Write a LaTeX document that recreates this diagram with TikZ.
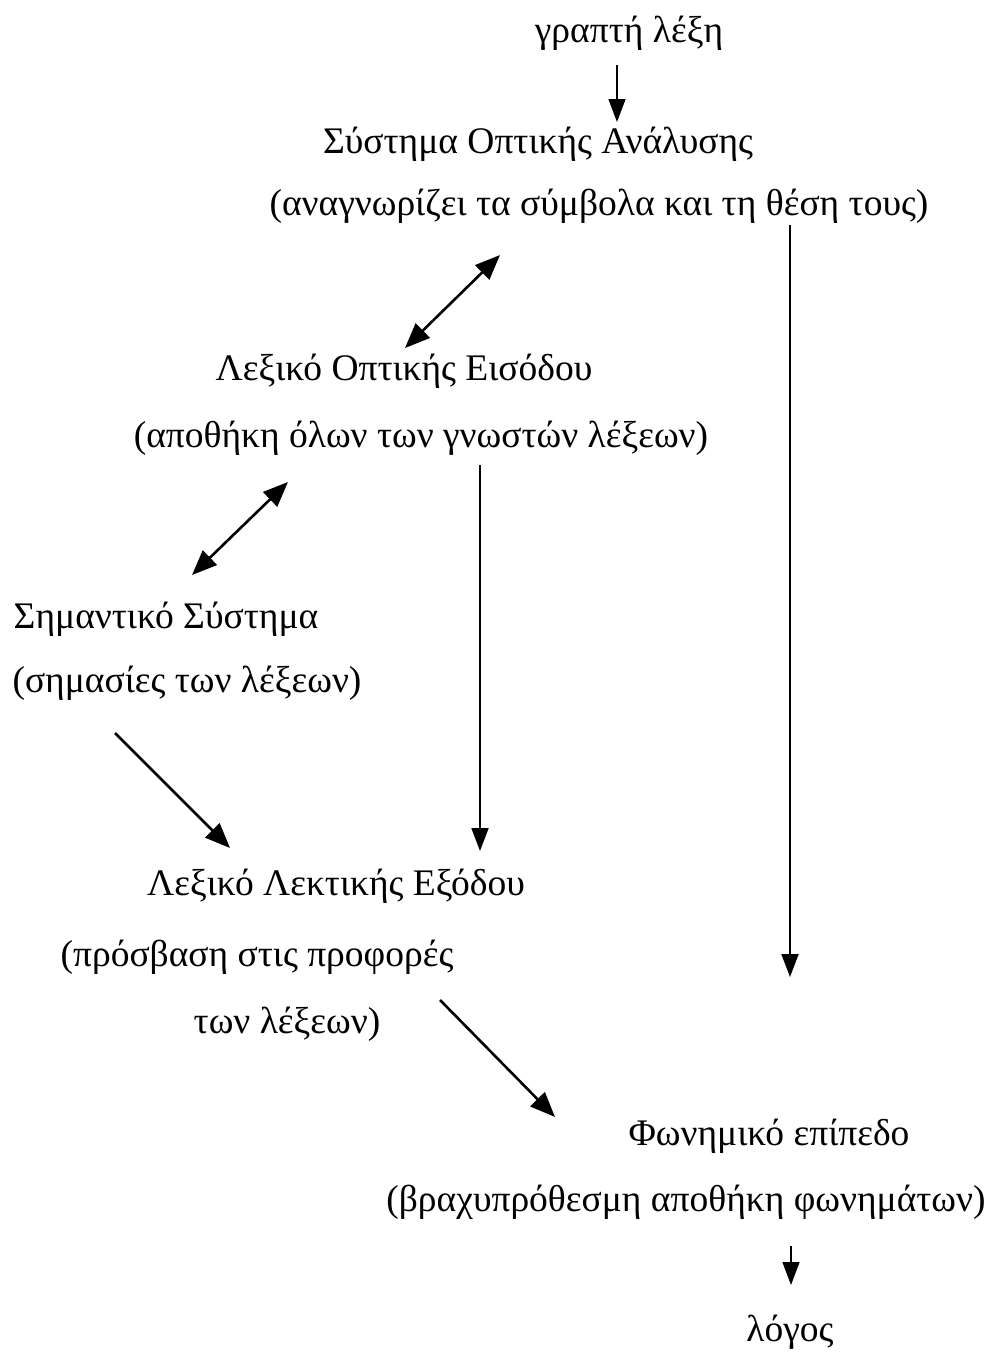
\documentclass[tikz,border=0pt]{standalone}
\usepackage{fontspec}
\setmainfont{Liberation Serif}
\usetikzlibrary{arrows.meta}
\begin{document}
\begin{tikzpicture}[x=1pt,y=-1pt,
  lbl/.style={inner sep=0pt, font=\fontsize{37.5}{45}\selectfont, anchor=base},
  conn/.style={line width=1.8pt, -{Triangle[length=23pt,width=17pt]}},
  dconn/.style={line width=2.6pt, {Triangle[length=25pt,width=20pt]}-{Triangle[length=25pt,width=20pt]}},
  sconn/.style={line width=2.6pt, -{Triangle[length=25pt,width=20pt]}}]
\useasboundingbox[fill=white] (0,0) rectangle (994,1353);

\node[lbl] (t1) at (629,42) {γραπτή λέξη};
\node[lbl] (t2) at (538,153) {Σύστημα Οπτικής Ανάλυσης};
\node[lbl] (t3) at (599,215) {(αναγνωρίζει τα σύμβολα και τη θέση τους)};
\node[lbl] (t4) at (404,380) {Λεξικό Οπτικής Εισόδου};
\node[lbl] (t5) at (421,447) {(αποθήκη όλων των γνωστών λέξεων)};
\node[lbl] (t6) at (166,628) {Σημαντικό Σύστημα};
\node[lbl] (t7) at (187,692) {(σημασίες των λέξεων)};
\node[lbl] (t8) at (336,895) {Λεξικό Λεκτικής Εξόδου};
\node[lbl] (t9) at (257,966) {(πρόσβαση στις προφορές};
\node[lbl] (t10) at (287,1033) {των λέξεων)};
\node[lbl] (t11) at (769,1145) {Φωνημικό επίπεδο};
\node[lbl] (t12) at (686,1211) {(βραχυπρόθεσμη αποθήκη φωνημάτων)};
\node[lbl] (t13) at (790,1341) {λόγος};

\coordinate (a1s) at (617,65);   \coordinate (a1e) at (617,122);
\coordinate (d1a) at (500,255);  \coordinate (d1b) at (405,348);
\coordinate (v1s) at (790,225);  \coordinate (v1e) at (790,977);
\coordinate (d2a) at (288,482);  \coordinate (d2b) at (192,575);
\coordinate (v2s) at (480,465);  \coordinate (v2e) at (480,851);
\coordinate (g1s) at (115,733);  \coordinate (g1e) at (230,848);
\coordinate (g2s) at (440,1000); \coordinate (g2e) at (555,1117);
\coordinate (a2s) at (791,1246); \coordinate (a2e) at (791,1285);

\draw[conn, line width=1.4pt] (a1s) -- (a1e);
\draw[dconn] (d1a) -- (d1b);
\draw[conn] (v1s) -- (v1e);
\draw[dconn] (d2a) -- (d2b);
\draw[conn] (v2s) -- (v2e);
\draw[sconn] (g1s) -- (g1e);
\draw[sconn] (g2s) -- (g2e);
\draw[conn, line width=1.4pt] (a2s) -- (a2e);
\end{tikzpicture}
\end{document}
